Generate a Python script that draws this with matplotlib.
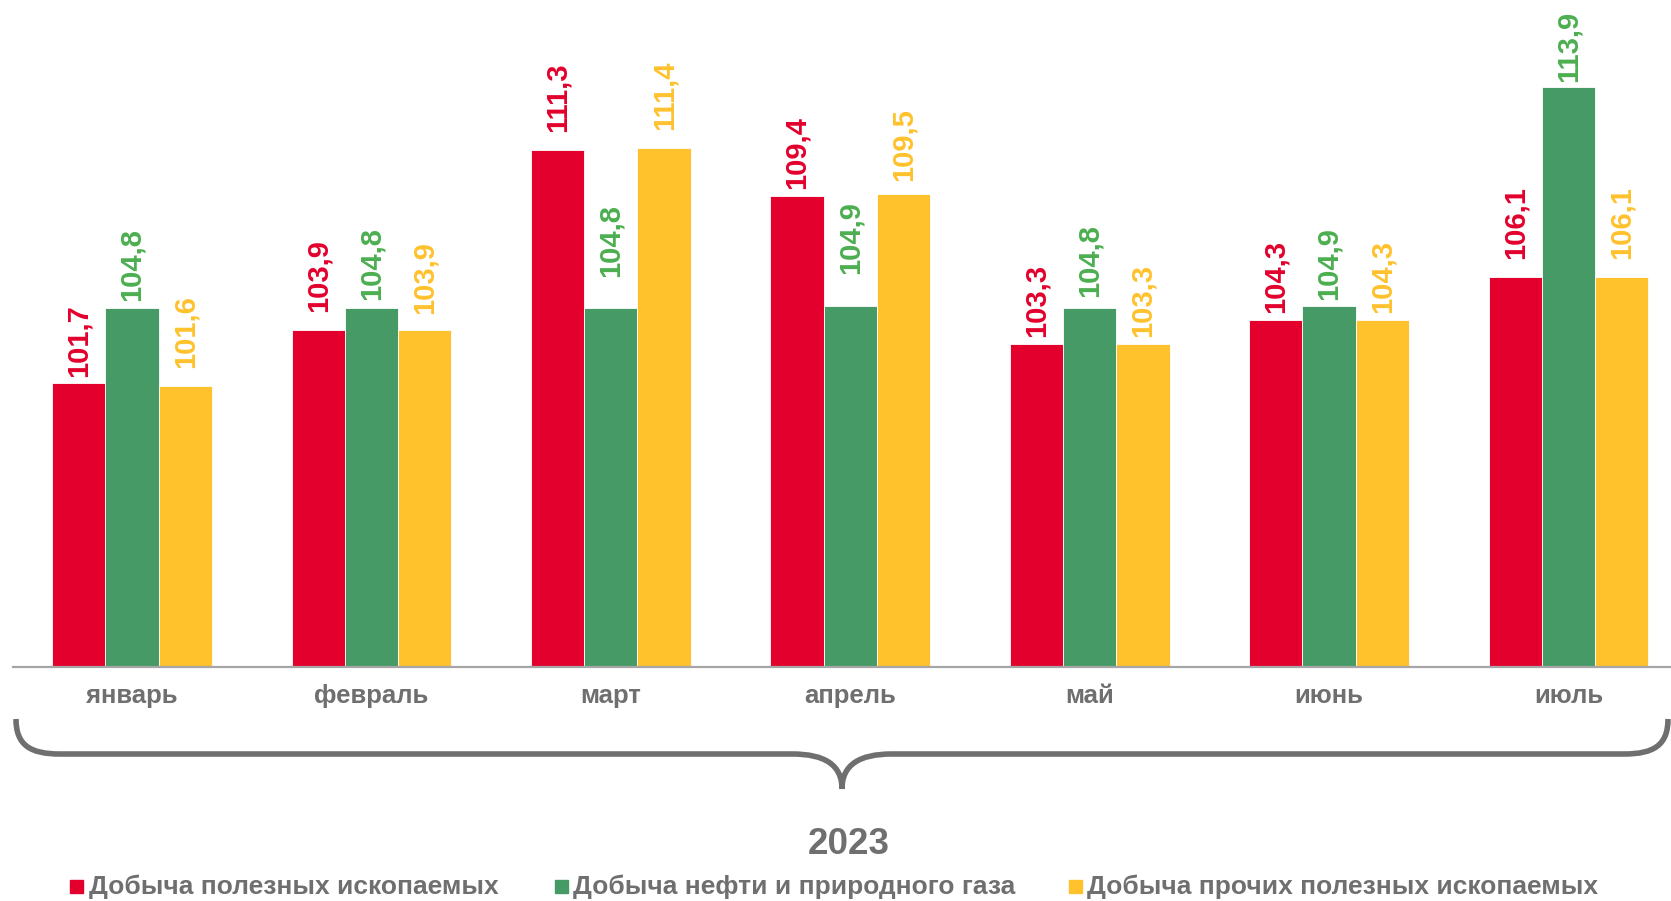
import matplotlib
matplotlib.use("Agg")
import matplotlib.pyplot as plt
from matplotlib.path import Path
from matplotlib.patches import PathPatch, Rectangle
import numpy as np

plt.rcParams['font.family'] = ['Liberation Sans', 'DejaVu Sans']

months = ["январь", "февраль", "март", "апрель", "май", "июнь", "июль"]
series_names = ["Добыча полезных ископаемых",
                "Добыча нефти и природного газа",
                "Добыча прочих полезных ископаемых"]
mining_total = [101.7, 103.9, 111.3, 109.4, 103.3, 104.3, 106.1]
oil_gas = [104.8, 104.8, 104.8, 104.9, 104.8, 104.9, 113.9]
other_mining = [101.6, 103.9, 111.4, 109.5, 103.3, 104.3, 106.1]
year_label = "2023"

# style: gap (px) between bar top and its value label, per series / month
label_gap_px = [
    [6, 18, 18, 7, 7.5, 7, 18],
    [7.5, 8, 31, 32, 11, 6, 5],
    [18, 16, 18, 13, 7, 7, 18],
]

bar_colors = ["#E3002C", "#459A66", "#FFC22D"]
label_colors = ["#E3002C", "#4CAF50", "#FFC22D"]
gray = "#6F6F6F"

W, H = 1671, 901
fig = plt.figure(figsize=(W / 100, H / 100), dpi=100)
ax = fig.add_axes([12.8 / W, 1 - 667 / H, 1 - 12.8 / W, 667 / H])

x = np.arange(len(months))
bw = 0.2225
data = [mining_total, oil_gas, other_mining]
for k, vals in enumerate(data):
    pos = x + (k - 1) * bw
    ax.bar(pos, vals, width=bw, color=bar_colors[k], edgecolor="white", linewidth=0.6)
    for j, (px, v) in enumerate(zip(pos, vals)):
        ax.annotate(f"{v:.1f}".replace(".", ","), (px, v),
                    xytext=(0, label_gap_px[k][j] * 0.72),
                    textcoords="offset points", rotation=90, ha="center", va="bottom",
                    fontsize=21, fontweight="bold", color=label_colors[k])

ax.set_ylim(90, 117.5)
ax.set_xlim(-0.498, 6.428)
ax.set_yticks([])
ax.set_xticks(x)
ax.set_xticklabels(months, fontsize=18.5, fontweight="bold", color=gray)
ax.tick_params(axis="x", length=0, pad=12)
for s in ["top", "right", "left"]:
    ax.spines[s].set_visible(False)
ax.spines["bottom"].set_color("#A6A6A6")
ax.spines["bottom"].set_linewidth(1.6)
ax.patch.set_alpha(0)

# brace (figure pixel coords, origin top-left)
def P(px, py):
    return (px / W, 1 - py / H)

cx = 842
verts = [P(16, 719), P(16, 745), P(30, 754), P(60, 754),
         P(792, 754),
         P(825, 754), P(cx, 765), P(cx, 789),
         P(cx, 765), P(2 * cx - 825, 754), P(2 * cx - 792, 754),
         P(2 * cx - 60, 754),
         P(2 * cx - 30, 754), P(2 * cx - 16, 745), P(2 * cx - 16, 719)]
codes = [Path.MOVETO, Path.CURVE4, Path.CURVE4, Path.CURVE4,
         Path.LINETO,
         Path.CURVE4, Path.CURVE4, Path.CURVE4,
         Path.CURVE4, Path.CURVE4, Path.CURVE4,
         Path.LINETO,
         Path.CURVE4, Path.CURVE4, Path.CURVE4]
fig.patches.append(PathPatch(Path(verts, codes), transform=fig.transFigure,
                             facecolor="none", edgecolor=gray, linewidth=4,
                             capstyle="butt"))

fig.text(849 / W, 1 - 844 / H, year_label, ha="center", va="center",
         fontsize=26.5, fontweight="bold", color=gray)

# legend
leg_marker_x = [70, 555, 1069]
leg_text_x = [89, 573, 1087]
for k in range(3):
    fig.patches.append(Rectangle(P(leg_marker_x[k], 893), 13 / W, 13 / H,
                                 transform=fig.transFigure, color=bar_colors[k]))
    fig.text(leg_text_x[k] / W, 1 - 887 / H, series_names[k], ha="left", va="center",
             fontsize=19, fontweight="bold", color=gray)

fig.savefig("out.png", dpi=100)
